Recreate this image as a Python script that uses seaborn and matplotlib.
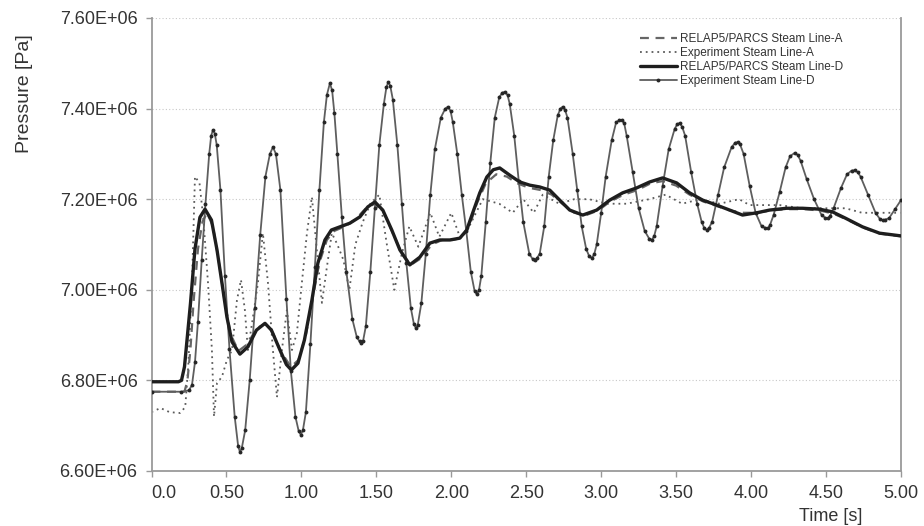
import numpy as np
import pandas as pd
import matplotlib
matplotlib.use("Agg")
import matplotlib.pyplot as plt
import seaborn as sns
from matplotlib.ticker import FuncFormatter

# ---------------- data (time in s, pressure in 1e6 Pa) ----------------
relap_a_t = [0.00, 0.22, 0.24, 0.26, 0.28, 0.31, 0.34, 0.37, 0.41, 0.45, 0.49, 0.53, 0.58, 0.64,
             0.70, 0.76, 0.81, 0.86, 0.93, 0.98, 1.03, 1.08, 1.12, 1.17, 1.22, 1.29, 1.36, 1.43,
             1.49, 1.55, 1.61, 1.67, 1.73, 1.80, 1.87, 1.94, 2.01, 2.07, 2.12, 2.17, 2.23, 2.30,
             2.37, 2.44, 2.52, 2.60, 2.67, 2.74, 2.82, 2.90, 2.98, 3.06, 3.15, 3.24, 3.33, 3.41,
             3.50, 3.59, 3.68, 3.77, 3.86, 3.95, 4.04, 4.13, 4.24, 4.35, 4.46, 4.55, 4.64, 4.75,
             4.86, 5.00]
relap_a_p = [6.775, 6.775, 6.800, 6.870, 6.970, 7.090, 7.150, 7.170, 7.140, 7.060, 6.970, 6.900,
             6.865, 6.880, 6.915, 6.925, 6.905, 6.865, 6.830, 6.845, 6.900, 6.990, 7.060, 7.110,
             7.130, 7.140, 7.155, 7.180, 7.190, 7.170, 7.125, 7.080, 7.055, 7.070, 7.100, 7.110,
             7.110, 7.115, 7.140, 7.190, 7.235, 7.255, 7.250, 7.235, 7.225, 7.220, 7.210, 7.190,
             7.170, 7.165, 7.175, 7.195, 7.210, 7.220, 7.235, 7.240, 7.230, 7.210, 7.195, 7.185,
             7.175, 7.170, 7.170, 7.175, 7.178, 7.178, 7.175, 7.168, 7.155, 7.137, 7.124, 7.118]

exp_a_t = [0.00, 0.06, 0.12, 0.19, 0.225, 0.245, 0.27, 0.29, 0.32, 0.345, 0.377, 0.403, 0.417,
           0.437, 0.47, 0.503, 0.537, 0.57, 0.597, 0.623, 0.643, 0.677, 0.71, 0.743, 0.777, 0.81,
           0.837, 0.87, 0.903, 0.937, 0.97, 1.003, 1.037, 1.07, 1.103, 1.137, 1.17, 1.203, 1.24,
           1.28, 1.32, 1.36, 1.41, 1.46, 1.52, 1.57, 1.62, 1.67, 1.72, 1.78, 1.86, 1.92, 2.00,
           2.06, 2.12, 2.21, 2.32, 2.41, 2.48, 2.55, 2.61, 2.72, 2.82, 2.92, 3.04, 3.17, 3.32,
           3.43, 3.54, 3.66, 3.79, 3.92, 3.99, 4.19, 4.34, 4.52, 4.63, 4.74, 5.00]
exp_a_p = [6.730, 6.739, 6.730, 6.728, 6.741, 6.830, 7.015, 7.250, 7.236, 7.160, 7.015, 6.867,
           6.720, 6.794, 6.808, 6.845, 6.867, 6.977, 7.022, 6.955, 6.867, 6.940, 7.015, 7.125,
           7.015, 6.867, 6.763, 6.867, 6.955, 6.867, 6.905, 7.015, 7.125, 7.205, 7.088, 6.971,
           7.050, 7.125, 7.100, 7.066, 7.000, 7.100, 7.150, 7.190, 7.210, 7.100, 7.000, 7.080,
           7.140, 7.095, 7.170, 7.117, 7.170, 7.114, 7.140, 7.200, 7.190, 7.170, 7.200, 7.170,
           7.210, 7.190, 7.200, 7.200, 7.190, 7.190, 7.200, 7.210, 7.190, 7.200, 7.190, 7.200,
           7.187, 7.187, 7.180, 7.180, 7.180, 7.170, 7.170]

relap_d_t = [0.00, 0.18, 0.20, 0.22, 0.24, 0.26, 0.29, 0.323, 0.357, 0.40, 0.437, 0.47, 0.503,
             0.537, 0.59, 0.643, 0.70, 0.757, 0.80, 0.857, 0.90, 0.933, 0.977, 1.02, 1.07, 1.11,
             1.157, 1.20, 1.257, 1.323, 1.39, 1.443, 1.49, 1.543, 1.603, 1.657, 1.723, 1.79,
             1.857, 1.923, 1.99, 2.057, 2.103, 2.143, 2.19, 2.237, 2.28, 2.323, 2.39, 2.457,
             2.523, 2.59, 2.657, 2.723, 2.79, 2.877, 2.97, 3.057, 3.143, 3.237, 3.323, 3.41,
             3.503, 3.59, 3.677, 3.77, 3.857, 3.943, 4.037, 4.123, 4.237, 4.343, 4.457, 4.543,
             4.63, 4.743, 4.857, 5.00]
relap_d_p = [6.797, 6.797, 6.800, 6.830, 6.900, 6.970, 7.090, 7.160, 7.178, 7.154, 7.088, 7.015,
             6.940, 6.885, 6.858, 6.874, 6.911, 6.926, 6.911, 6.867, 6.835, 6.823, 6.838, 6.889,
             6.977, 7.059, 7.110, 7.132, 7.139, 7.147, 7.161, 7.183, 7.194, 7.176, 7.132, 7.088,
             7.055, 7.072, 7.103, 7.110, 7.110, 7.114, 7.132, 7.170, 7.214, 7.249, 7.265, 7.269,
             7.253, 7.238, 7.231, 7.227, 7.220, 7.198, 7.176, 7.165, 7.176, 7.198, 7.214, 7.225,
             7.238, 7.247, 7.236, 7.214, 7.198, 7.187, 7.176, 7.165, 7.170, 7.176, 7.180, 7.180,
             7.178, 7.172, 7.158, 7.139, 7.125, 7.119]

exp_d_t = [0.00, 0.20, 0.25, 0.27, 0.29, 0.31, 0.335, 0.36, 0.385, 0.398,
           0.41, 0.422, 0.435, 0.46, 0.49, 0.52, 0.555, 0.578, 0.59, 0.602,
           0.625, 0.655, 0.69, 0.725, 0.76, 0.79, 0.81, 0.83, 0.86, 0.90,
           0.93, 0.96, 0.982, 0.996, 1.010, 1.03, 1.06, 1.09, 1.12, 1.15,
           1.17, 1.19, 1.205, 1.22, 1.24, 1.27, 1.30, 1.34, 1.37, 1.388,
           1.40, 1.412, 1.43, 1.46, 1.49, 1.52, 1.55, 1.567, 1.58, 1.593,
           1.61, 1.64, 1.67, 1.70, 1.73, 1.75, 1.763, 1.776, 1.80, 1.83,
           1.86, 1.89, 1.93, 1.96, 1.977, 1.995, 2.01, 2.04, 2.07, 2.10,
           2.13, 2.155, 2.17, 2.185, 2.20, 2.23, 2.26, 2.29, 2.32, 2.34,
           2.357, 2.375, 2.39, 2.42, 2.45, 2.48, 2.52, 2.542, 2.557, 2.572,
           2.59, 2.62, 2.65, 2.68, 2.71, 2.728, 2.743, 2.758, 2.775, 2.81,
           2.84, 2.87, 2.90, 2.92, 2.937, 2.953, 2.97, 3.00, 3.03, 3.07,
           3.10, 3.12, 3.137, 3.153, 3.17, 3.21, 3.25, 3.29, 3.32, 3.337,
           3.353, 3.37, 3.41, 3.45, 3.49, 3.508, 3.523, 3.54, 3.56, 3.60,
           3.64, 3.67, 3.688, 3.703, 3.72, 3.74, 3.78, 3.82, 3.87, 3.895,
           3.91, 3.925, 3.95, 3.99, 4.03, 4.07, 4.095, 4.11, 4.125, 4.15,
           4.19, 4.23, 4.26, 4.29, 4.31, 4.33, 4.37, 4.42, 4.47, 4.495,
           4.51, 4.525, 4.55, 4.60, 4.64, 4.67, 4.69, 4.71, 4.73, 4.78,
           4.83, 4.86, 4.877, 4.895, 4.92, 4.96, 5.00]
exp_d_p = [6.775, 6.775, 6.778, 6.790, 6.840, 6.930, 7.066, 7.190, 7.300, 7.340,
           7.353, 7.345, 7.320, 7.220, 7.030, 6.870, 6.720, 6.655, 6.642, 6.650,
           6.690, 6.800, 6.960, 7.120, 7.250, 7.300, 7.315, 7.300, 7.220, 6.980,
           6.820, 6.720, 6.688, 6.680, 6.690, 6.730, 6.880, 7.050, 7.220, 7.370,
           7.430, 7.456, 7.440, 7.390, 7.300, 7.160, 7.040, 6.935, 6.895, 6.886,
           6.883, 6.888, 6.920, 7.040, 7.180, 7.320, 7.410, 7.447, 7.459, 7.450,
           7.420, 7.320, 7.190, 7.060, 6.960, 6.925, 6.916, 6.922, 6.970, 7.080,
           7.210, 7.310, 7.380, 7.400, 7.404, 7.395, 7.370, 7.300, 7.210, 7.130,
           7.040, 6.998, 6.990, 7.000, 7.030, 7.150, 7.280, 7.380, 7.425, 7.435,
           7.437, 7.430, 7.410, 7.340, 7.240, 7.150, 7.080, 7.068, 7.066, 7.070,
           7.080, 7.140, 7.250, 7.330, 7.385, 7.400, 7.404, 7.398, 7.380, 7.300,
           7.220, 7.140, 7.090, 7.074, 7.070, 7.078, 7.100, 7.170, 7.250, 7.330,
           7.370, 7.374, 7.375, 7.368, 7.340, 7.260, 7.180, 7.130, 7.113, 7.110,
           7.118, 7.140, 7.230, 7.310, 7.355, 7.366, 7.368, 7.360, 7.340, 7.260,
           7.190, 7.150, 7.136, 7.132, 7.137, 7.150, 7.210, 7.270, 7.315, 7.325,
           7.326, 7.322, 7.300, 7.230, 7.170, 7.140, 7.137, 7.136, 7.142, 7.165,
           7.215, 7.270, 7.295, 7.302, 7.298, 7.285, 7.245, 7.200, 7.165, 7.159,
           7.158, 7.162, 7.180, 7.225, 7.255, 7.263, 7.264, 7.260, 7.250, 7.210,
           7.170, 7.156, 7.154, 7.155, 7.158, 7.178, 7.198]

series_labels = ["RELAP5/PARCS Steam Line-A", "Experiment Steam Line-A",
                 "RELAP5/PARCS Steam Line-D", "Experiment Steam Line-D"]
x_ticks = [0.0, 0.5, 1.0, 1.5, 2.0, 2.5, 3.0, 3.5, 4.0, 4.5, 5.0]
x_tick_labels = ["0.0", "0.50", "1.00", "1.50", "2.00", "2.50", "3.00", "3.50", "4.00", "4.50", "5.00"]
y_ticks = [6.6e6, 6.8e6, 7.0e6, 7.2e6, 7.4e6, 7.6e6]

# ---------------- figure ----------------
sns.set_theme(style="white")
plt.rcParams["font.family"] = ["Liberation Sans", "DejaVu Sans"]

W, H = 924, 526
fig = plt.figure(figsize=(W / 100, H / 100), dpi=100)
ax = fig.add_axes([151.5 / W, 1 - 471 / H, (901 - 151.5) / W, 453 / H])


def draw(t, p, label, **kw):
    df = pd.DataFrame({"t": t, "p": np.asarray(p) * 1e6})
    sns.lineplot(data=df, x="t", y="p", ax=ax, label=label, estimator=None, sort=False, **kw)


draw(exp_a_t, exp_a_p, series_labels[1], color="#5a5a5a", linewidth=1.3,
     linestyle=(0, (1, 2.2)), zorder=2)
draw(relap_a_t, relap_a_p, series_labels[0], color="#666666", linewidth=1.6,
     linestyle=(0, (4, 3)), zorder=3)
draw(exp_d_t, exp_d_p, series_labels[3], color="#5e5e5e", linewidth=1.3,
     marker="o", markersize=2.8, markerfacecolor="#262626", markeredgecolor="#262626",
     markeredgewidth=0, zorder=4)
draw(relap_d_t, relap_d_p, series_labels[2], color="#1e1e1e", linewidth=2.4, zorder=5)

ax.set_xlim(0, 5)
ax.set_ylim(6.6e6, 7.6e6)
ax.set_xticks(x_ticks)
ax.set_xticklabels(x_tick_labels)
ax.set_yticks(y_ticks)
ax.yaxis.set_major_formatter(FuncFormatter(lambda v, _: f"{v:.2E}"))

ax.tick_params(axis="both", direction="out", length=4, width=1, color="#999999",
               labelsize=13, labelcolor="#333333", pad=6)
ax.tick_params(axis="x", bottom=True)
ax.tick_params(axis="y", left=True)
ax.get_xticklabels()[0].set_horizontalalignment("left")

for side in ["left", "bottom", "right"]:
    ax.spines[side].set_visible(True)
    ax.spines[side].set_color("#9a9a9a")
    ax.spines[side].set_linewidth(1.3)
ax.spines["top"].set_visible(False)

ax.yaxis.grid(True, linestyle=(0, (1, 2)), color="#c8c8c8", linewidth=0.8)
ax.xaxis.grid(False)
ax.set_axisbelow(True)

ax.set_xlabel("Time [s]", fontsize=13, color="#333333")
ax.set_ylabel("Pressure [Pa]", fontsize=14, color="#333333")
ax.xaxis.set_label_coords((831 - 151.5) / 749.5, (471 - 508) / 453)
ax.yaxis.set_label_coords((33 - 151.5) / 749.5, (471 - 94) / 453)

handles, labels = ax.get_legend_handles_labels()
order = [labels.index(l) for l in series_labels]
leg = ax.legend([handles[i] for i in order], [labels[i] for i in order],
                loc="upper left", bbox_to_anchor=(640 / W, 1 - 33 / H),
                bbox_transform=fig.transFigure, frameon=False, fontsize=8.5,
                handlelength=3.1, handletextpad=0.3, labelspacing=0.16,
                borderpad=0, borderaxespad=0, numpoints=1)
for txt in leg.get_texts():
    txt.set_color("#333333")

fig.savefig("out.png", dpi=100, facecolor="white")
